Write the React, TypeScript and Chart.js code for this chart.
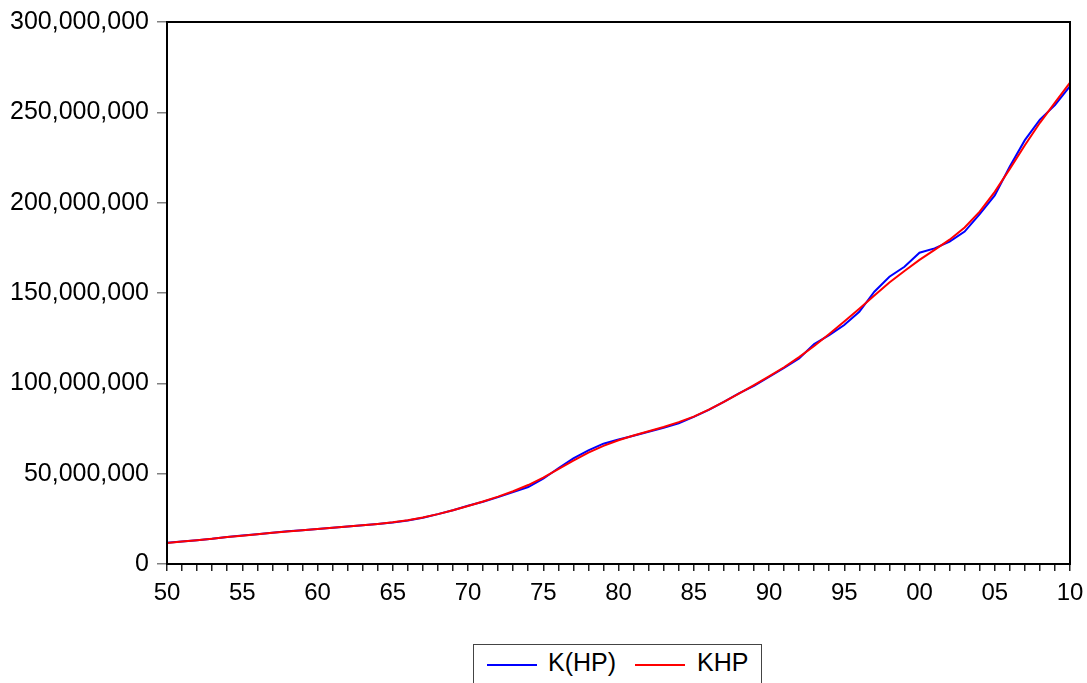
import React, { useEffect, useRef } from "react";
import { Chart, registerables } from "chart.js";

Chart.register(...registerables);

const years = [
  1950, 1951, 1952, 1953, 1954, 1955, 1956, 1957, 1958, 1959,
  1960, 1961, 1962, 1963, 1964, 1965, 1966, 1967, 1968, 1969,
  1970, 1971, 1972, 1973, 1974, 1975, 1976, 1977, 1978, 1979,
  1980, 1981, 1982, 1983, 1984, 1985, 1986, 1987, 1988, 1989,
  1990, 1991, 1992, 1993, 1994, 1995, 1996, 1997, 1998, 1999,
  2000, 2001, 2002, 2003, 2004, 2005, 2006, 2007, 2008, 2009,
  2010,
];

// K(HP), millions
const kActual = [
  11.7, 12.4, 13.2, 14.0, 15.0, 15.8, 16.5, 17.3, 18.1, 18.7,
  19.4, 20.0, 20.7, 21.4, 22.1, 23.0, 24.1, 25.6, 27.6, 29.8,
  32.2, 34.5, 37.0, 39.8, 42.6, 47.2, 53.0, 58.5, 62.9, 66.6,
  68.9, 71.0, 73.2, 75.4, 77.9, 81.4, 85.3, 89.8, 94.4, 98.6,
  103.5, 108.5, 113.8, 121.7, 126.7, 132.3, 139.6, 150.7, 159.0, 164.5,
  172.3, 174.7, 178.4, 184.0, 193.7, 204.0, 220.0, 234.6, 246.0, 254.0,
  264.5,
];

// KHP (trend), millions
const kTrend = [
  11.6, 12.4, 13.2, 14.0, 14.9, 15.7, 16.5, 17.3, 18.0, 18.7,
  19.4, 20.0, 20.7, 21.4, 22.2, 23.1, 24.2, 25.7, 27.6, 29.8,
  32.1, 34.6, 37.3, 40.3, 43.7, 47.8, 52.5, 57.2, 61.6, 65.4,
  68.5, 71.1, 73.5, 75.8, 78.5, 81.6, 85.4, 89.7, 94.3, 99.0,
  103.9, 108.9, 114.5, 120.7, 127.3, 134.2, 141.3, 148.6, 155.8, 162.2,
  168.3, 173.9, 179.5, 186.3, 195.0, 206.0, 218.7, 231.8, 244.2, 255.4,
  266.5,
];

const yTicks = [0, 50e6, 100e6, 150e6, 200e6, 250e6, 300e6];

const FONT = "'Liberation Sans', Arial, Helvetica, sans-serif";

const framePlugin = {
  id: "frame",
  afterDatasetsDraw(chart: any) {
    const { ctx, chartArea } = chart;
    ctx.save();
    ctx.strokeStyle = "#000";
    ctx.lineWidth = 2;
    ctx.strokeRect(
      chartArea.left,
      chartArea.top,
      chartArea.right - chartArea.left,
      chartArea.bottom - chartArea.top
    );
    ctx.restore();
  },
};

export default function App() {
  const ref = useRef<HTMLCanvasElement | null>(null);

  useEffect(() => {
    if (!ref.current) return;
    const chart = new Chart(ref.current, {
      type: "line",
      data: {
        datasets: [
          {
            label: "K(HP)",
            data: years.map((y, i) => ({ x: y, y: kActual[i] * 1e6 })),
            borderColor: "#0000FF",
            borderWidth: 2,
            pointRadius: 0,
            tension: 0,
            fill: false,
            order: 1,
          },
          {
            label: "KHP",
            data: years.map((y, i) => ({ x: y, y: kTrend[i] * 1e6 })),
            borderColor: "#FF0000",
            borderWidth: 2,
            pointRadius: 0,
            tension: 0,
            fill: false,
            order: 0,
          },
        ],
      },
      options: {
        responsive: false,
        animation: false,
        events: [],
        layout: { padding: { top: 22, right: 17, bottom: 0, left: 0 } },
        plugins: {
          legend: { display: false },
          tooltip: { enabled: false },
        },
        scales: {
          x: {
            type: "linear",
            min: 1950,
            max: 2010,
            afterFit(scale: any) {
              scale.height = 119;
              scale.paddingLeft = 0;
              scale.paddingRight = 0;
            },
            border: { display: false },
            grid: {
              drawOnChartArea: false,
              drawTicks: true,
              tickLength: 7,
              color: "#222",
              lineWidth: 1.5,
            },
            ticks: {
              stepSize: 1,
              autoSkip: false,
              maxTicksLimit: 100,
              maxRotation: 0,
              padding: 8,
              color: "#000",
              font: { family: FONT, size: 24 },
              callback: (v: any) => {
                const n = Number(v);
                if (n % 5 !== 0) return "";
                return String(n % 100).padStart(2, "0");
              },
            },
          },
          y: {
            type: "linear",
            min: 0,
            max: 300e6,
            afterFit(scale: any) {
              scale.width = 167;
              scale.paddingTop = 0;
              scale.paddingBottom = 0;
            },
            afterBuildTicks(scale: any) {
              scale.ticks = yTicks.map((v) => ({ value: v }));
            },
            border: { display: false },
            grid: {
              drawOnChartArea: false,
              drawTicks: true,
              tickLength: 10,
              color: "#808080",
              lineWidth: 1.5,
            },
            ticks: {
              padding: 8,
              color: "#000",
              font: { family: FONT, size: 25 },
              callback: (v: any) => Number(v).toLocaleString("en-US"),
            },
          },
        },
      },
      plugins: [framePlugin],
    } as any);
    return () => chart.destroy();
  }, []);

  const legendText: React.CSSProperties = {
    fontFamily: FONT,
    fontSize: 25,
    color: "#000",
    lineHeight: "1",
  };

  return (
    <div
      style={{
        position: "fixed",
        left: 0,
        top: 0,
        width: 1087,
        height: 683,
        overflow: "hidden",
        background: "#fff",
      }}
    >
      <canvas
        ref={ref}
        width={1087}
        height={683}
        style={{ position: "absolute", left: 0, top: 0, width: 1087, height: 683 }}
      />
      <div
        style={{
          position: "absolute",
          left: 473,
          top: 644,
          width: 289,
          height: 60,
          border: "1px solid #444",
          boxSizing: "border-box",
          background: "#fff",
        }}
      >
        <div style={{ position: "absolute", left: 13, top: 19, width: 50, height: 2, background: "#0000FF" }} />
        <div style={{ position: "absolute", left: 74, top: 5, whiteSpace: "nowrap", ...legendText }}>K(HP)</div>
        <div style={{ position: "absolute", left: 161, top: 19, width: 50, height: 2, background: "#FF0000" }} />
        <div style={{ position: "absolute", left: 223, top: 5, whiteSpace: "nowrap", ...legendText }}>KHP</div>
      </div>
    </div>
  );
}
